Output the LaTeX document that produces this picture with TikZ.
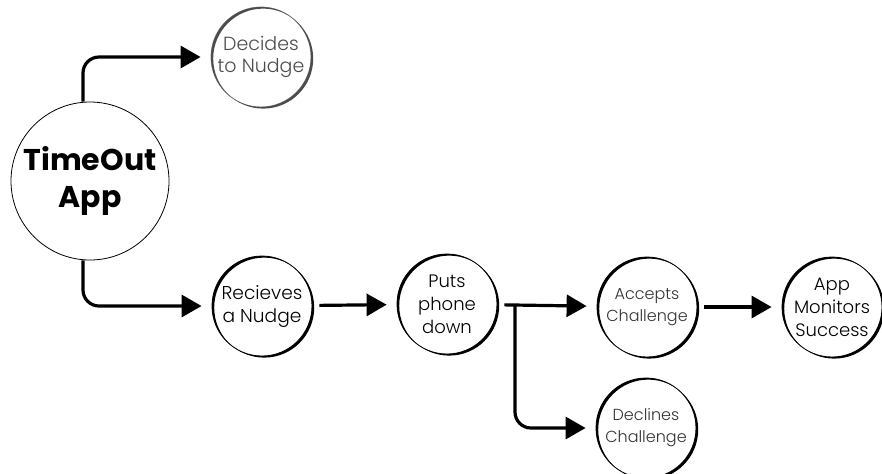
\documentclass[tikz,border=0pt]{standalone}
\usepackage{fontspec}
\setmainfont{Poppins Light}[BoldFont=Poppins Bold]
\usetikzlibrary{arrows.meta}

\tikzset{
  bubble/.style={circle,draw,line width=0.4pt,minimum size=50pt,inner sep=0pt,align=center,
    font=\fontsize{9}{11.5}\selectfont},
  flow/.style={line width=1.6pt,-{Triangle[length=10pt,width=11pt]},rounded corners=8pt,
    shorten >=5pt,shorten <=3.5pt}
}
% heavier rim on the lower right of a bubble
\newcommand{\rim}[2][black]{%
  \fill[#1,even odd rule] ([shift={(2.2,1.6)}]#2.center) circle (25pt) (#2.center) circle (25pt);}

\begin{document}
\begin{tikzpicture}[x=0.5pt,y=-0.5pt]
        \useasboundingbox (0,0) rectangle (882,473);
        \node[bubble,minimum size=79pt,font=\fontsize{15}{18.5}\selectfont\bfseries] (app) at (90,181){TimeOut\\App};
        \node[bubble,draw=gray,text=black!70,font=\fontsize{9.5}{11}\selectfont] (decide) at (261,57){Decides\\to Nudge};
        \node[bubble,font=\fontsize{9.3}{11.5}\selectfont] (receive) at (262,306){Recieves\\a Nudge};
        \node[bubble] (puts) at (447,304){Puts\\phone\\down};
        \node[bubble,text=black!80,font=\fontsize{8}{11}\selectfont] (accept) at (647,307){Accepts\\Challenge};
        \node[bubble] (monitor) at (832,307){App\\Monitors\\Success};
        \node[bubble,text=black!80,font=\fontsize{8}{11}\selectfont] (decline) at (646,428){Declines\\Challenge};
        \rim[black!70]{decide}
        \rim{receive}
        \rim{puts}
        \rim{accept}
        \rim{monitor}
        \rim{decline}
        \coordinate (fork) at (515,306);
        \draw[flow,shorten <=0pt] ([xshift=-3.5pt]app.north) |- (decide.west);
        \draw[flow,shorten <=0pt] ([xshift=-3.5pt]app.south) |- (receive.west);
        \draw[flow] (receive) -- (puts);
        \draw[flow] (puts) -- (accept);
        \draw[flow,shorten <=0pt] (fork) |- (decline.west);
        \draw[flow] (accept) -- (monitor);
    \end{tikzpicture}
\end{document}
